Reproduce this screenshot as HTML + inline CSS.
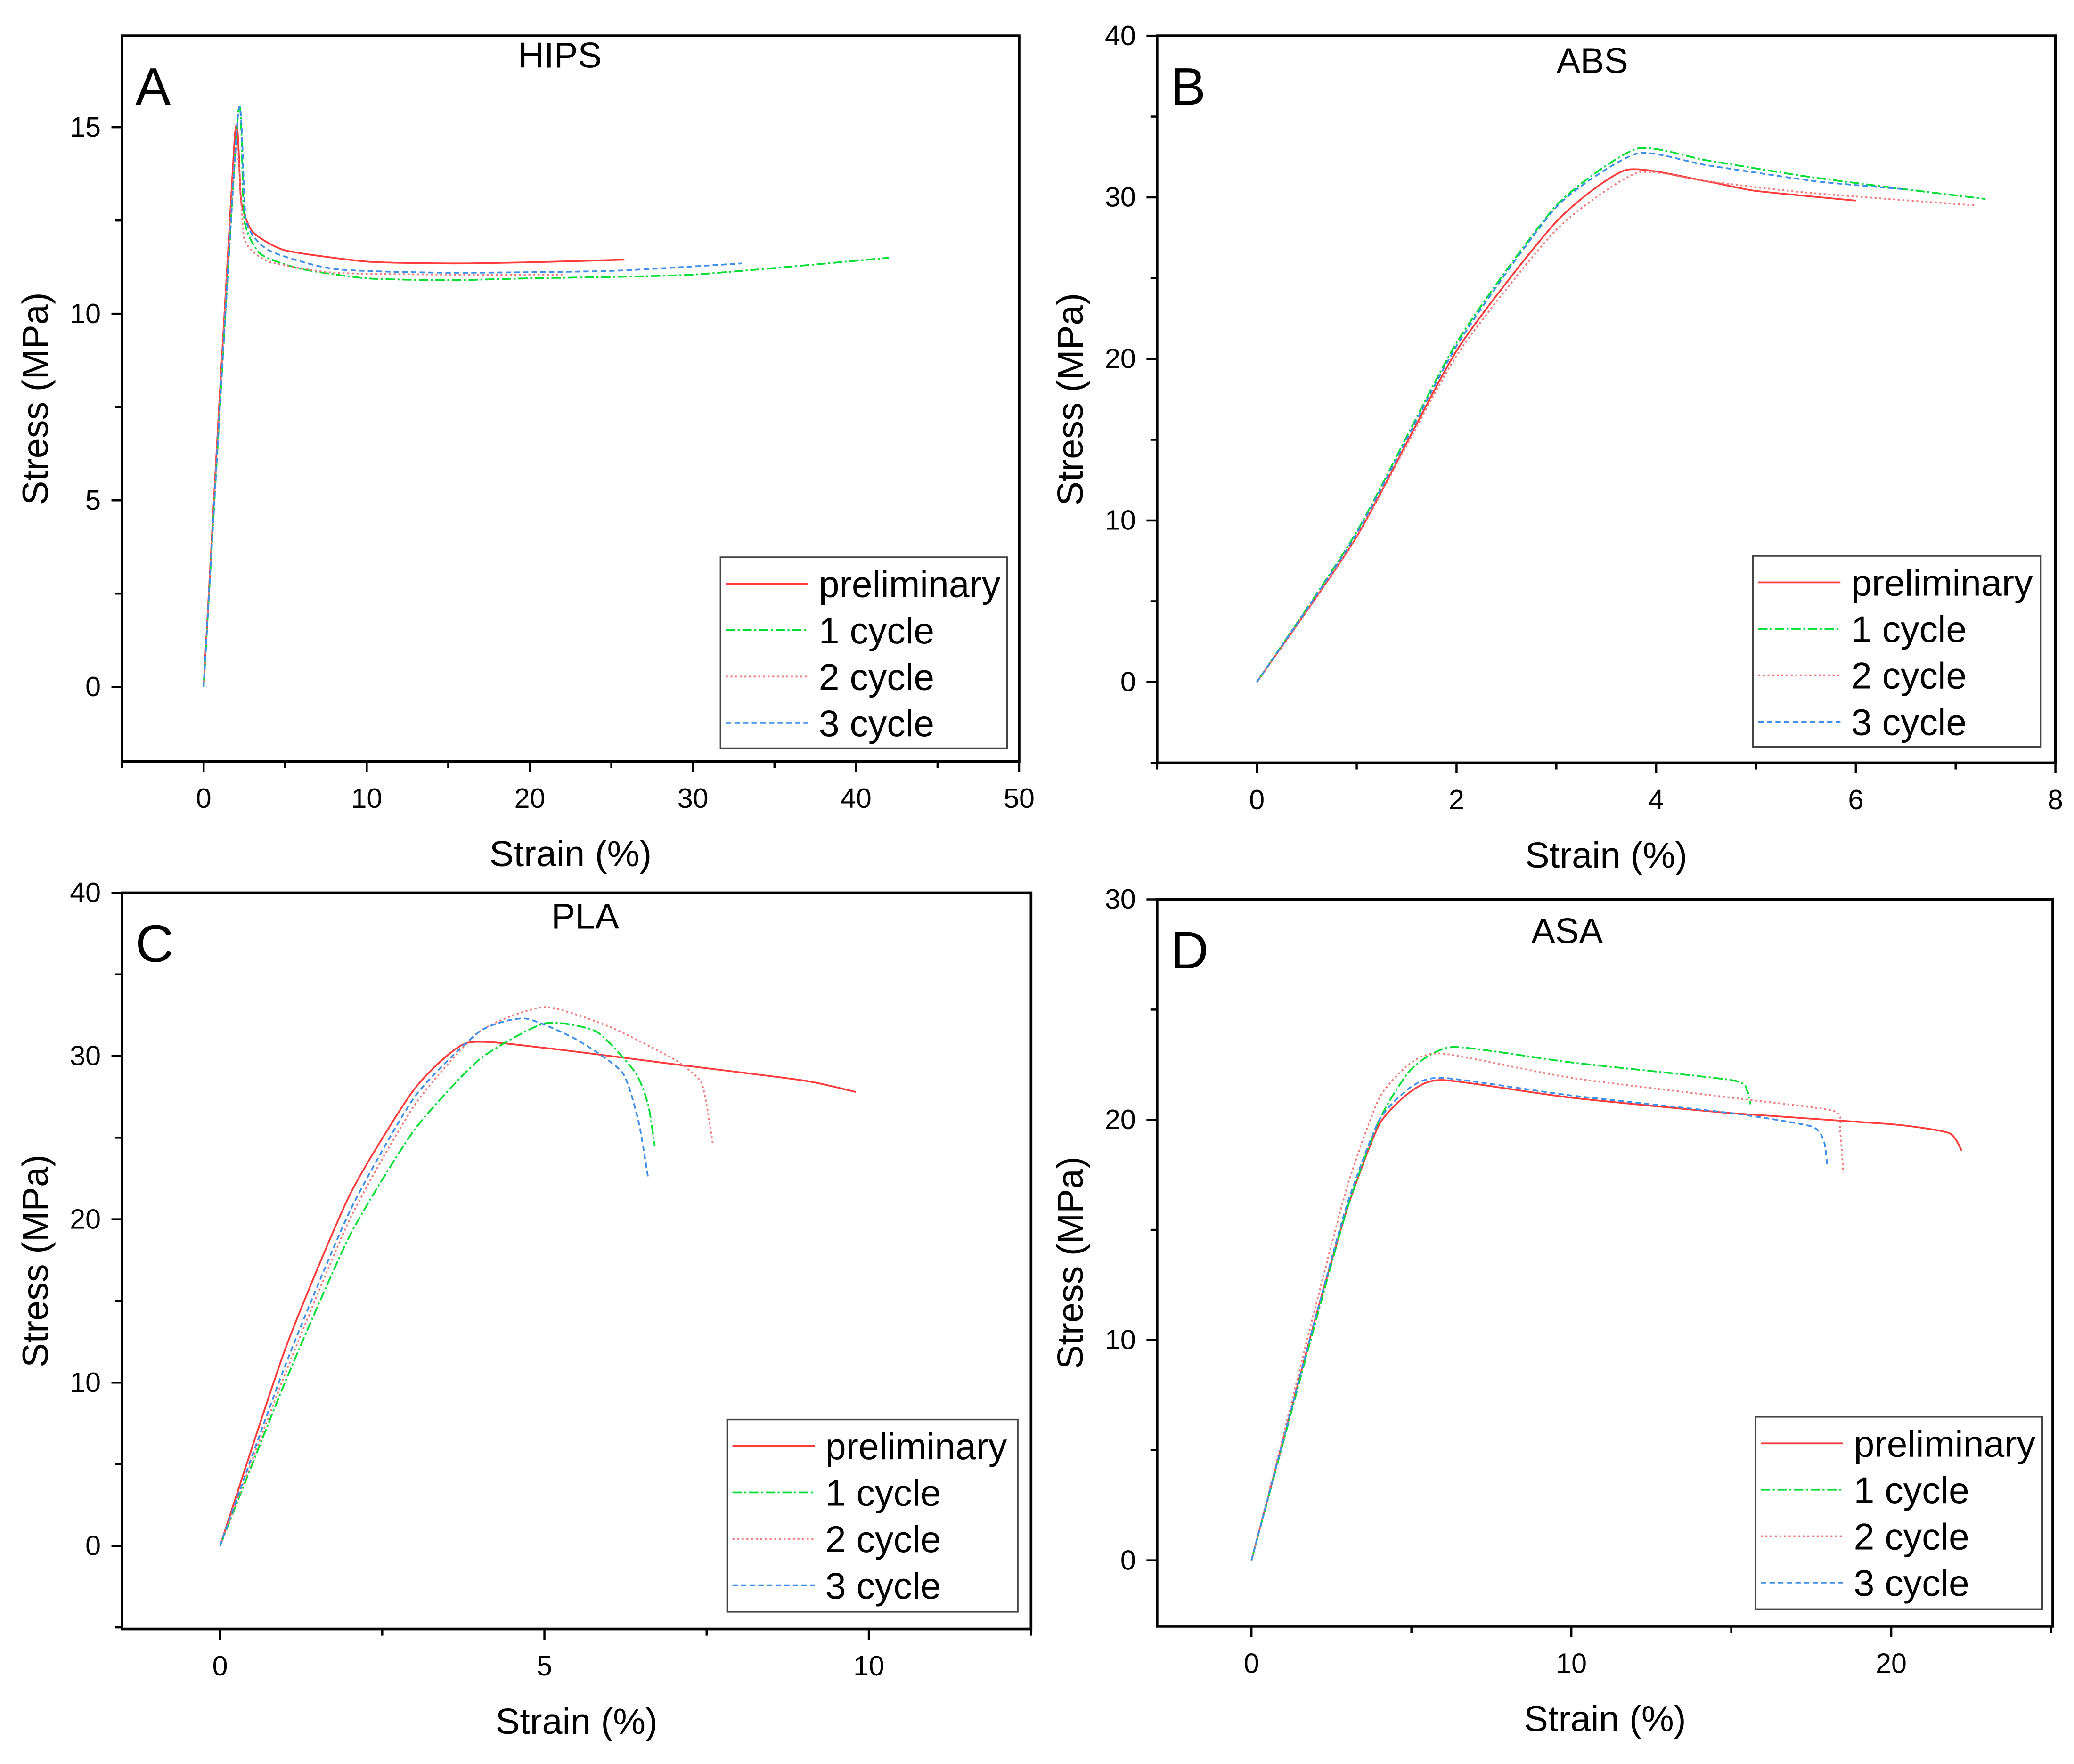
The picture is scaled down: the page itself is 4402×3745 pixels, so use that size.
<!DOCTYPE html>
<html><head><meta charset="utf-8"><style>
html,body{margin:0;padding:0;background:#fff}
svg{display:block}
text{font-family:"Liberation Sans",sans-serif;fill:#000}
</style></head><body>
<svg id="fig" xmlns="http://www.w3.org/2000/svg" width="4402" height="3745" viewBox="0 0 1563 1329.7"></svg>
<script>
const seriesNames = ["preliminary","1 cycle","2 cycle","3 cycle"];
// Panel A HIPS
const hipsPre = [[0,0],[1.9,14.7],[2.3,13],[3,12.2],[5,11.7],[10,11.4],[15,11.35],[20,11.38],[25.8,11.45]];
const hips1 = [[0,0],[2.1,15.3],[2.5,12.5],[3.5,11.6],[6,11.2],[10,10.95],[15,10.9],[20,10.95],[30,11.05],[42,11.5]];
const hips2 = [[0,0],[1.9,14.2],[2.5,12],[4,11.4],[8,11.1],[15,11.05],[22,11.05]];
const hips3 = [[0,0],[2.1,15.3],[2.6,12.5],[4,11.7],[8,11.2],[15,11.1],[25,11.15],[33,11.35]];
// Panel B ABS
const absPre = [[0,0],[1,9],[2,20.5],[3,28.5],[3.7,31.7],[4.5,31],[5,30.4],[6,29.8]];
const abs1 = [[0,0],[1,9.3],[2,21],[3,29.5],[3.8,33],[4.5,32.3],[5.5,31.3],[6.5,30.5],[7.3,29.9]];
const abs2 = [[0,0],[1,9],[2,20.2],[3,28],[3.8,31.5],[4.5,31],[5.5,30.3],[7.2,29.5]];
const abs3 = [[0,0],[1,9.2],[2,20.8],[3,29.4],[3.8,32.7],[4.5,32],[5.6,31],[6.5,30.5]];
// Panel C PLA
const plaPre = [[0,0],[1,12],[2,21.5],[3,28],[3.8,30.8],[5,30.5],[7,29.5],[9,28.5],[9.8,27.8]];
const pla1 = [[0,0],[1,10],[2,19],[3,25.5],[4,29.8],[5,32],[5.8,31.5],[6.4,29],[6.6,27],[6.7,24.5]];
const pla2 = [[0,0],[1,10.5],[2,20],[3,27],[4,31.5],[5,33],[6,31.8],[7,29.8],[7.4,28.5],[7.5,27],[7.6,24.5]];
const pla3 = [[0,0],[1,11],[2,20.5],[3,27.5],[4,31.5],[4.7,32.3],[5.5,31],[6.2,29],[6.45,26],[6.6,22.5]];
// Panel D ASA
const asaPre = [[0,0],[1,5.5],[2,11],[3,16],[4,19.8],[5,21.3],[6,21.8],[10,21],[15,20.3],[20,19.8],[21.8,19.4],[22.2,18.6]];
const asa1 = [[0,0],[1,5.4],[2,10.8],[3,16],[4,20],[5,22.3],[6.3,23.3],[10,22.6],[15,21.8],[15.5,21.3],[15.6,20.7]];
const asa2 = [[0,0],[1,5.7],[2,11.5],[3,17],[4,21],[5,22.6],[6,23],[10,21.9],[15,21],[18.2,20.4],[18.4,19.5],[18.5,17.6]];
const asa3 = [[0,0],[1,5.5],[2,11],[3,16.2],[4,20],[5,21.5],[6,21.9],[10,21.1],[15,20.3],[17.5,19.7],[17.9,19],[18,17.9]];
// ticks
const xTicksA=[0,10,20,30,40,50], yTicksA=[0,5,10,15];
const xTicksB=[0,2,4,6,8], yTicksB=[0,10,20,30,40];
const xTicksC=[0,5,10], yTicksC=[0,10,20,30,40];
const xTicksD=[0,10,20], yTicksD=[0,10,20,30];

const NS="http://www.w3.org/2000/svg";
const svg=document.getElementById('fig');
function mk(tag,attrs,parent,txt){const e=document.createElementNS(NS,tag);for(const k in attrs)e.setAttribute(k,attrs[k]);if(txt!==undefined)e.textContent=txt;(parent||svg).appendChild(e);return e;}
const styles=[{stroke:"#ff3b3b",dash:""},{stroke:"#00dd33",dash:"7 2 1.5 2"},{stroke:"#f07a7a",dash:"1.5 2"},{stroke:"#3f8fe8",dash:"4 2.5"}];
function smooth(P){
 if(P.length<3)return "M"+P.map(p=>p.join(",")).join(" L");
 let d="M"+P[0][0].toFixed(2)+","+P[0][1].toFixed(2);
 const k=0.1;
 for(let i=0;i<P.length-1;i++){
  const p0=P[Math.max(0,i-1)],p1=P[i],p2=P[i+1],p3=P[Math.min(P.length-1,i+2)];
  const c1=[p1[0]+(p2[0]-p0[0])*k,p1[1]+(p2[1]-p0[1])*k];
  const c2=[p2[0]-(p3[0]-p1[0])*k,p2[1]-(p3[1]-p1[1])*k];
  d+=" C"+c1.map(v=>v.toFixed(2)).join(",")+" "+c2.map(v=>v.toFixed(2)).join(",")+" "+p2.map(v=>v.toFixed(2)).join(",");
 }
 return d;
}

const panels=[
 {id:"a",letter:"A",title:"HIPS",L:92,R:768,T:27,B:574,x0:-5,x1:50,y0:-2.0,y1:17.45,xt:xTicksA,xm:5,yt:yTicksA,ym:2.5,data:[hipsPre,hips1,hips2,hips3],leg:[543,420,216,144],tx:422,ty:51},
 {id:"b",letter:"B",title:"ABS",L:872,R:1549,T:27,B:575,x0:-1,x1:8,y0:-5,y1:40,xt:xTicksB,xm:1,yt:yTicksB,ym:5,data:[absPre,abs1,abs2,abs3],leg:[1321,419,217,144],tx:1200,ty:55},
 {id:"c",letter:"C",title:"PLA",L:92,R:777,T:673,B:1228,x0:-1.51,x1:12.5,y0:-5.1,y1:40,xt:xTicksC,xm:2.5,yt:yTicksC,ym:5,data:[plaPre,pla1,pla2,pla3],leg:[548,1070,219,145],tx:441,ty:700},
 {id:"d",letter:"D",title:"ASA",L:872,R:1547,T:678,B:1226,x0:-2.95,x1:25.05,y0:-3.0,y1:30,xt:xTicksD,xm:5,yt:yTicksD,ym:5,data:[asaPre,asa1,asa2,asa3],leg:[1323,1068,216,145],tx:1181,ty:711}
];
panels.forEach(p=>{
 const g=mk('g',{});
 
 
 const sx=v=>p.L+(v-p.x0)/(p.x1-p.x0)*(p.R-p.L);
 const sy=v=>p.B-(v-p.y0)/(p.y1-p.y0)*(p.B-p.T);
 const fr=mk('rect',{x:p.L,y:p.T,width:p.R-p.L,height:p.B-p.T,fill:"none",stroke:"#000","stroke-width":2},g);
 
 
 for(let v=Math.ceil(p.x0/p.xm)*p.xm; v<=p.x1+1e-9; v+=p.xm){
  const major=p.xt.some(t=>Math.abs(t-v)<1e-9);
  mk('line',{x1:sx(v),x2:sx(v),y1:p.B,y2:p.B+(major?8:5),stroke:"#000","stroke-width":1.6},g);
 }
 p.xt.forEach(v=>{const t=mk('text',{x:sx(v),y:p.B+35,"text-anchor":"middle","font-size":21},g,String(v));
  
  });
 for(let v=Math.ceil(p.y0/p.ym)*p.ym; v<=p.y1+1e-9; v+=p.ym){
  const major=p.yt.some(t=>Math.abs(t-v)<1e-9);
  mk('line',{x1:p.L,x2:p.L-(major?8:5),y1:sy(v),y2:sy(v),stroke:"#000","stroke-width":1.6},g);
 }
 p.yt.forEach(v=>{const t=mk('text',{x:p.L-16,y:sy(v)+7,"text-anchor":"end","font-size":21},g,String(v));
  
  });
 const xt=mk('text',{x:(p.L+p.R)/2,y:p.B+79,"text-anchor":"middle","font-size":27.5},g,"Strain (%)");
 
 
 const yc=(p.T+p.B)/2, yx=p.L-56;
 const yt=mk('text',{x:yx,y:yc,"text-anchor":"middle","font-size":27.5,transform:`rotate(-90 ${yx} ${yc})`},g,"Stress (MPa)");
 
 
 const tt=mk('text',{x:p.tx,y:p.ty,"text-anchor":"middle","font-size":27},g,p.title);
 
 
 const lt=mk('text',{x:p.L+10,y:p.T+52,"font-size":40},g,p.letter);
 
 
 p.data.forEach((d,i)=>{
  const P=d.map(q=>[sx(q[0]),sy(q[1])]);
  const pl=mk('path',{d:smooth(P),fill:"none",stroke:styles[i].stroke,"stroke-width":1.3,"stroke-dasharray":styles[i].dash,"stroke-linejoin":"round"},g);
  
  
 });
 const [lx,ly,lw,lh]=p.leg;
 const lg=mk('g',{},g);
 
 
 mk('rect',{x:lx,y:ly,width:lw,height:lh,fill:"#fff",stroke:"#444","stroke-width":1.2},lg);
 seriesNames.forEach((n,i)=>{
  const yy=ly+20+i*35;
  mk('line',{x1:lx+4,x2:lx+66,y1:yy,y2:yy,stroke:styles[i].stroke,"stroke-width":1.3,"stroke-dasharray":styles[i].dash},lg);
  const t=mk('text',{x:lx+74,y:yy+10,"font-size":28},lg,n);
  
  
 });
});
</script>
</body></html>
